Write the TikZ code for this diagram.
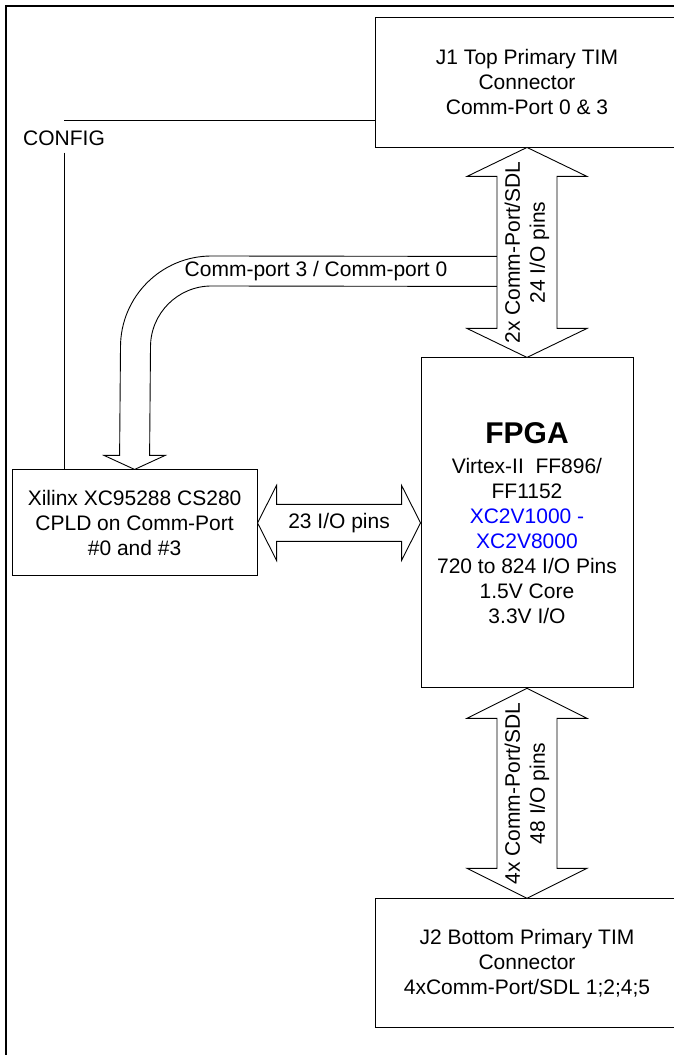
\documentclass[tikz,border=0pt]{standalone}
\usepackage{fontspec}
\setmainfont{Liberation Sans}
\usetikzlibrary{positioning, calc}
\definecolor{XilBlue}{HTML}{0000FF}

\begin{document}
\begin{tikzpicture}[x=1pt, y=1pt,
    blk/.style={rectangle, draw=black, line width=0.9pt, align=center,
                font=\fontsize{21}{25}\selectfont, inner sep=0pt},
    lbl/.style={align=center, font=\fontsize{21}{25}\selectfont, inner sep=0pt},
    fatarr/.style={draw=black, line width=0.9pt, fill=white, line join=miter},
    wire/.style={draw=black, line width=0.9pt},
    node distance=210pt
  ]
  \useasboundingbox (0,0) rectangle (674,1055);
  \draw[line width=2pt] (6,0) -- (6,1049) -- (674,1049);

  % boxes
  \node[blk, minimum width=304pt, minimum height=130pt] (j1) at (527,973)
    {J1 Top Primary TIM\\Connector\\Comm-Port 0 \& 3};
  \node[blk, minimum width=212pt, minimum height=330pt, below=of j1] (fpga)
    {{\fontsize{30}{34}\selectfont\bfseries FPGA}\\[4.5pt]
     Virtex-II\ \ FF896/\\FF1152\\
     \textcolor{XilBlue}{XC2V1000 -}\\\textcolor{XilBlue}{XC2V8000}\\
     720 to 824 I/O Pins\\1.5V Core\\3.3V I/O};
  \node[blk, minimum width=304pt, minimum height=129pt, below=of fpga] (j2)
    {J2 Bottom Primary TIM\\Connector\\4xComm-Port/SDL 1;2;4;5};
  \node[blk, minimum width=245pt, minimum height=106pt, left=163pt of fpga] (xil)
    {Xilinx XC95288 CS280\\CPLD on Comm-Port\\\#0 and \#3};

  % config line
  \node[lbl, inner sep=7pt] (cfg) at (64,917) {CONFIG};
  \coordinate (cfgtop) at (64,935);
  \draw[wire] (j1.west |- cfgtop) -- (cfgtop);
  \draw[wire] (cfg.south) -- (cfg.south |- xil.north);

  % comm-port band to the CPLD
  \draw[fatarr] ($(j1.south)+(-30,-109)$) -- (211.5,799)
    arc[start angle=90, end angle=180, radius=91]
    -- ($(xil.north)+(-15,14)$) -- ++(-15.5,0) -- (xil.north) -- ++(30.5,14)
    -- ++(-15.5,0) -- (150.5,708)
    arc[start angle=180, end angle=90, radius=61]
    -- ($(j1.south)+(-30,-139)$);
  \node[lbl] (bandlbl) at (316,784) {Comm-port 3 / Comm-port 0};

  % fat double arrows
  \draw[fatarr] (j1.south) -- ++(60,-29) -- ++(-30,0) -- ($(fpga.north)+(30,29)$)
    -- ++(30,0) -- (fpga.north) -- ++(-60,29) -- ++(30,0)
    -- ($(j1.south)+(-30,-29)$) -- ++(-30,0) -- cycle;
  \draw[fatarr] (fpga.south) -- ++(60,-30) -- ++(-30,0) -- ($(j2.north)+(30,30)$)
    -- ++(30,0) -- (j2.north) -- ++(-60,30) -- ++(30,0)
    -- ($(fpga.south)+(-30,-30)$) -- ++(-30,0) -- cycle;
  \draw[fatarr] (xil.east) -- ++(19,37.5) -- ++(0,-19) -- ($(fpga.west)+(-19,18.5)$)
    -- ++(0,19) -- (fpga.west) -- ++(-19,-37.5) -- ++(0,19)
    -- ($(xil.east)+(19,-18.5)$) -- ++(0,-19) -- cycle;

  \node[lbl, rotate=90] (toplbl) at ($(j1.south)!0.5!(fpga.north)$)
    {2x Comm-Port/SDL\\24 I/O pins};
  \node[lbl, rotate=90] (botlbl) at ($(fpga.south)!0.5!(j2.north)$)
    {4x Comm-Port/SDL\\48 I/O pins};
  \node[lbl] (midlbl) at ($(xil.east)!0.5!(fpga.west)$) {23 I/O pins};
\end{tikzpicture}
\end{document}
